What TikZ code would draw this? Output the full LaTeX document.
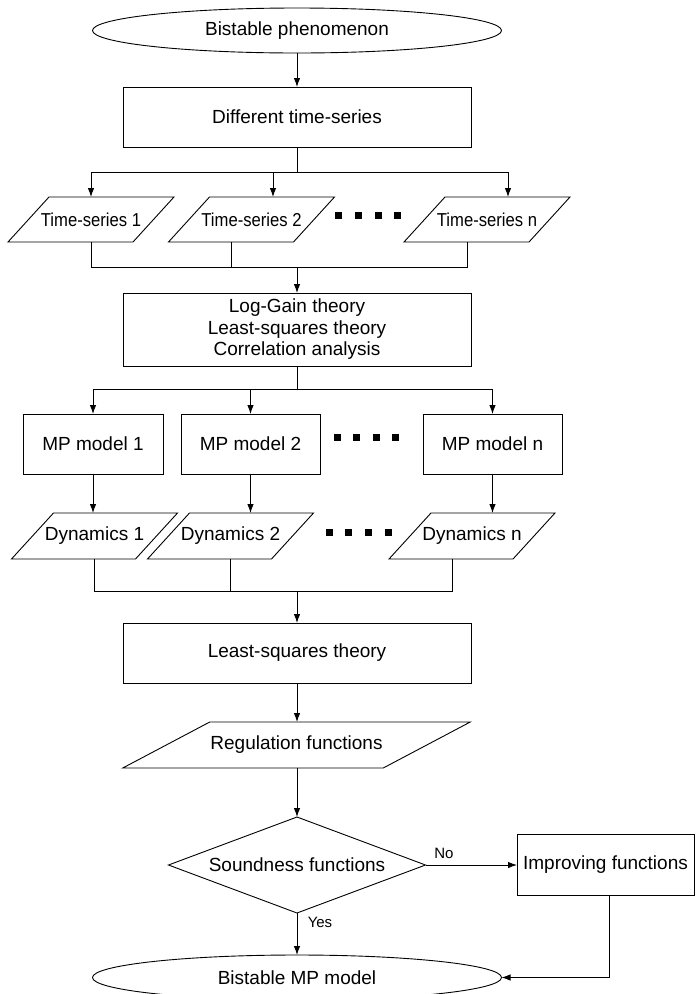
\documentclass[tikz,border=0pt]{standalone}
\usepackage{fontspec}
\setmainfont{Liberation Sans}
\newfontfamily\narrowfont[FakeStretch=0.89]{Liberation Sans}
\usetikzlibrary{arrows.meta,shapes.geometric}

\tikzset{
  base/.style={inner sep=0pt, outer sep=0pt, font=\fontsize{19}{21.5}\selectfont, align=center},
  box/.style={base, draw, rectangle},
  oval/.style={base, draw, ellipse, minimum width=409pt, minimum height=45pt},
  shp/.style={base, rectangle},
  tsfont/.style={font=\narrowfont\fontsize{18.7}{21}\selectfont},
  arr/.style={-{Latex[length=9pt,width=6.5pt]}},
  lbl/.style={font=\fontsize{15}{17}\selectfont, inner sep=0pt},
}
\newcommand\paragram[2]{\draw ([xshift=#2]#1.north west) -- ([xshift=#2]#1.north east) -- ([xshift=-#2]#1.south east) -- ([xshift=-#2]#1.south west) -- cycle;}

\begin{document}
\begin{tikzpicture}[x=1pt,y=-1pt,line width=0.9pt]
\useasboundingbox (0,0) rectangle (696,994);
\clip (0,0) rectangle (696,994);

% top
\node[oval] (top) at (297,30.5) {Bistable phenomenon};
\node[box, minimum width=348pt, minimum height=60pt] (dts) at (297,117) {Different time-series};

% time-series
\node[shp, tsfont, minimum width=125pt, minimum height=45pt] (ts1) at (91,219.5) {Time-series 1};
\node[shp, tsfont, minimum width=125pt, minimum height=45pt] (ts2) at (251.5,219.5) {Time-series 2};
\node[shp, tsfont, minimum width=125pt, minimum height=45pt] (tsn) at (487,219.5) {Time-series n};
\paragram{ts1}{20.5}
\paragram{ts2}{20.5}
\paragram{tsn}{20.5}
\foreach \x in {338,358,378,397} \fill (\x-3.5,211.5) rectangle ++(7,7);

\draw[arr] (top.south) -- (dts.north);
\coordinate (b1) at (297,172);
\draw (dts.south) -- (b1);
\draw[arr] (b1) -| (ts1.north);
\draw[arr] (b1) -| ([xshift=21.5]ts2.north);
\draw[arr] (b1) -| ([xshift=21]tsn.north);

\node[box, minimum width=348pt, minimum height=73pt] (lg) at (297,329.5) {Log-Gain theory\\Least-squares theory\\Correlation analysis};
\coordinate (j1) at (297,267);
\draw (ts1.south) |- (j1);
\draw ([xshift=-20.5]ts2.south) |- (j1);
\draw ([xshift=-20]tsn.south) |- (j1);
\draw[arr] (j1) -- (lg.north);

% MP models
\node[box, minimum width=140pt, minimum height=60pt] (mp1) at (93,444) {MP model 1};
\node[box, minimum width=139pt, minimum height=60pt] (mp2) at (250.5,444) {MP model 2};
\node[box, minimum width=139pt, minimum height=60pt] (mpn) at (492.5,444) {MP model n};
\foreach \x in {337,356,376,395} \fill (\x-3.5,433.5) rectangle ++(7,7);
\coordinate (b2) at (297,389);
\draw (lg.south) -- (b2);
\draw[arr] (b2) -| (mp1.north);
\draw[arr] (b2) -| (mp2.north);
\draw[arr] (b2) -| (mpn.north);

% dynamics
\node[shp, minimum width=124pt, minimum height=46pt] (d1) at (94.5,536) {Dynamics 1};
\node[shp, minimum width=124pt, minimum height=46pt] (d2) at (230.5,536) {Dynamics 2};
\node[shp, minimum width=124pt, minimum height=46pt] (dn) at (472,536) {Dynamics n};
\paragram{d1}{21}
\paragram{d2}{21}
\paragram{dn}{21}
\foreach \x in {329,348,368,388} \fill (\x-3.5,528.5) rectangle ++(7,7);
\draw[arr] (mp1.south) -- (mp1.south |- d1.north);
\draw[arr] (mp2.south) -- (mp2.south |- d2.north);
\draw[arr] (mpn.south) -- (mpn.south |- dn.north);

\node[box, minimum width=348pt, minimum height=60pt] (ls) at (297,653) {Least-squares theory};
\coordinate (j2) at (297,591);
\draw (d1.south) |- (j2);
\draw (d2.south) |- (j2);
\draw ([xshift=-20]dn.south) |- (j2);
\draw[arr] (j2) -- (ls.north);

% regulation
\node[shp, minimum width=260.5pt, minimum height=46pt] (reg) at (296.5,745) {Regulation functions};
\paragram{reg}{43.5}
\draw[arr] (ls.south) -- (ls.south |- reg.north);

% decision
\node[shp, minimum width=257pt, minimum height=96pt] (sd) at (297,865) {Soundness functions};
\draw (sd.north) -- (sd.east) -- (sd.south) -- (sd.west) -- cycle;
\draw[arr] (reg.south -| sd.north) -- (sd.north);

\node[box, minimum width=177pt, minimum height=61pt] (imp) at (605.5,864.5) {Improving functions};
\node[oval] (bot) at (297,977.5) {Bistable MP model};

\draw[arr] (sd.east) -- (sd.east -| imp.west);
\node[lbl] (no) at (444,853) {No};
\draw[arr] (sd.south) -- (bot.north);
\node[lbl] (yes) at (320,922) {Yes};
\draw[arr] ([xshift=4]imp.south) |- (bot.east);
\end{tikzpicture}
\end{document}
